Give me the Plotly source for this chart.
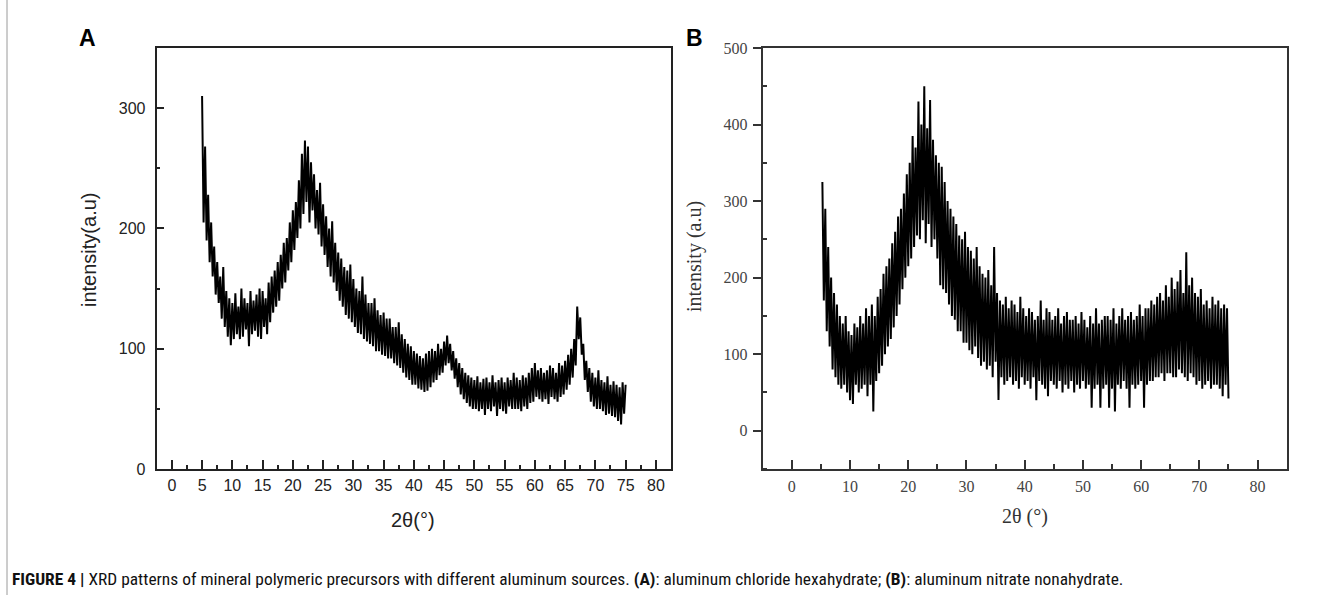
import numpy as np
import plotly.graph_objects as go

# ---------------- data ----------------
# Panel A: aluminum chloride hexahydrate, 2theta scan 5..75 deg, 0.25 deg step
theta_a_start, theta_a_stop, theta_step = 5.0, 75.0, 0.25
intensity_a = [
    310, 205, 268, 190,   # 5
    228, 172, 205, 160,   # 6
    185, 145, 172, 138,   # 7
    160, 125, 168, 118,   # 8
    148, 110, 142, 103,   # 9
    138, 108, 146, 112,   # 10
    135, 108, 150, 110,   # 11
    142, 116, 138, 102,   # 12
    148, 112, 140, 115,   # 13
    145, 110, 150, 108,   # 14
    148, 118, 142, 112,   # 15
    155, 122, 160, 130,   # 16
    165, 135, 172, 140,   # 17
    178, 150, 188, 155,   # 18
    192, 165, 205, 172,   # 19
    215, 182, 222, 192,   # 20
    240, 200, 262, 212,   # 21
    273, 222, 268, 205,   # 22
    255, 215, 245, 200,   # 23
    232, 195, 238, 185,   # 24
    220, 178, 210, 168,   # 25
    200, 160, 206, 155,   # 26
    188, 148, 180, 140,   # 27
    175, 135, 168, 128,   # 28
    165, 125, 170, 122,   # 29
    158, 118, 150, 113,   # 30
    148, 112, 160, 108,   # 31
    145, 106, 138, 104,   # 32
    138, 102, 142, 98,    # 33
    132, 98, 128, 95,     # 34
    130, 94, 125, 92,     # 35
    125, 92, 118, 88,     # 36
    118, 86, 122, 84,     # 37
    112, 80, 108, 76,     # 38
    104, 74, 102, 70,     # 39
    98, 70, 96, 67,       # 40
    94, 66, 92, 64,       # 41
    96, 65, 98, 68,       # 42
    100, 72, 98, 74,      # 43
    104, 78, 100, 80,     # 44
    106, 86, 111, 88,     # 45
    104, 82, 98, 75,      # 46
    92, 68, 88, 62,       # 47
    84, 58, 80, 55,       # 48
    78, 52, 76, 50,       # 49
    74, 50, 77, 48,       # 50
    72, 50, 75, 45,       # 51
    76, 50, 72, 48,       # 52
    78, 52, 72, 44,       # 53
    74, 50, 76, 48,       # 54
    72, 46, 76, 52,       # 55
    74, 50, 80, 50,       # 56
    76, 50, 74, 48,       # 57
    78, 52, 76, 50,       # 58
    80, 55, 84, 56,       # 59
    88, 60, 82, 58,       # 60
    84, 56, 80, 58,       # 61
    82, 54, 86, 60,       # 62
    84, 58, 80, 56,       # 63
    88, 60, 86, 62,       # 64
    90, 66, 95, 70,       # 65
    100, 76, 108, 86,     # 66
    135, 108, 126, 95,    # 67
    104, 74, 90, 64,      # 68
    84, 56, 80, 52,       # 69
    76, 50, 82, 50,       # 70
    74, 48, 72, 45,       # 71
    77, 46, 70, 44,       # 72
    73, 43, 70, 40,       # 73
    68, 37, 72, 46,       # 74
    70,                   # 75
]

# Panel B: aluminum nitrate nonahydrate, 2theta scan 5.25..75 deg, 0.25 deg step
theta_b_start, theta_b_stop = 5.25, 75.0
intensity_b = [
    325, 170, 290,        # 5.25-5.75
    130, 240, 110, 200,   # 6
    80, 180, 70, 165,     # 7
    60, 150, 55, 140,     # 8
    60, 150, 50, 130,     # 9
    40, 125, 35, 140,     # 10
    60, 135, 50, 150,     # 11
    55, 140, 60, 160,     # 12
    45, 150, 60, 165,     # 13
    25, 150, 65, 175,     # 14
    75, 185, 85, 205,     # 15
    100, 215, 110, 225,   # 16
    120, 245, 135, 260,   # 17
    150, 280, 165, 290,   # 18
    185, 310, 200, 335,   # 19
    215, 350, 225, 385,   # 20
    240, 370, 255, 430,   # 21
    250, 400, 275, 450,   # 22
    245, 395, 270, 432,   # 23
    240, 380, 250, 360,   # 24
    225, 350, 190, 345,   # 25
    185, 325, 180, 300,   # 26
    165, 290, 150, 280,   # 27
    145, 270, 130, 255,   # 28
    130, 250, 115, 260,   # 29
    115, 240, 105, 235,   # 30
    100, 225, 110, 240,   # 31
    95, 215, 85, 205,     # 32
    90, 200, 80, 210,     # 33
    85, 190, 70, 240,     # 34
    90, 180, 40, 170,     # 35
    70, 165, 60, 175,     # 36
    65, 160, 70, 170,     # 37
    60, 165, 65, 155,     # 38
    55, 175, 70, 160,     # 39
    60, 150, 65, 160,     # 40
    55, 155, 70, 145,     # 41
    40, 150, 65, 170,     # 42
    60, 145, 55, 160,     # 43
    45, 155, 65, 145,     # 44
    60, 150, 55, 160,     # 45
    65, 140, 50, 150,     # 46
    60, 155, 55, 145,     # 47
    65, 145, 50, 150,     # 48
    60, 140, 55, 155,     # 49
    65, 145, 55, 135,     # 50
    60, 150, 30, 140,     # 51
    55, 160, 60, 140,     # 52
    30, 145, 55, 150,     # 53
    60, 150, 30, 145,     # 54
    55, 160, 25, 140,     # 55
    60, 150, 55, 160,     # 56
    65, 145, 55, 150,     # 57
    30, 155, 60, 145,     # 58
    55, 150, 60, 165,     # 59
    65, 150, 30, 160,     # 60
    60, 160, 65, 170,     # 61
    65, 165, 70, 175,     # 62
    70, 180, 75, 170,     # 63
    65, 190, 75, 175,     # 64
    75, 200, 70, 185,     # 65
    70, 195, 80, 210,     # 66
    75, 180, 70, 233,     # 67
    65, 190, 75, 200,     # 68
    70, 180, 60, 175,     # 69
    65, 185, 55, 165,     # 70
    60, 170, 65, 160,     # 71
    55, 175, 60, 165,     # 72
    60, 170, 55, 160,     # 73
    45, 165, 60, 160,     # 74
    42,                   # 75
]

x_ticks_a = list(range(0, 85, 5))
y_ticks_a = [0, 100, 200, 300]
x_ticks_b = list(range(0, 90, 10))
y_ticks_b = [0, 100, 200, 300, 400, 500]

theta_a = np.round(np.arange(theta_a_start, theta_a_stop + 1e-9, theta_step), 2)
theta_b = np.round(np.arange(theta_b_start, theta_b_stop + 1e-9, theta_step), 2)
assert len(theta_a) == len(intensity_a), (len(theta_a), len(intensity_a))
assert len(theta_b) == len(intensity_b), (len(theta_b), len(intensity_b))

# ---------------- figure ----------------
W, H = 1344, 595
SANS = "Liberation Sans, Arial, sans-serif"
SERIF = "Liberation Serif, Times New Roman, serif"
INK = "#222222"

fig = go.Figure()
fig.add_trace(go.Scatter(x=theta_a, y=intensity_a, mode="lines",
                         line=dict(color="#000000", width=2),
                         xaxis="x", yaxis="y", showlegend=False, hoverinfo="skip"))
fig.add_trace(go.Scatter(x=theta_b, y=intensity_b, mode="lines",
                         line=dict(color="#000000", width=2),
                         xaxis="x2", yaxis="y2", showlegend=False, hoverinfo="skip"))


def px(x):
    return x / W


def py(y):
    return 1 - y / H


ydom = [py(469), py(48)]

fig.update_layout(
    width=W, height=H,
    margin=dict(l=0, r=0, t=0, b=0, autoexpand=False),
    paper_bgcolor="white", plot_bgcolor="white",
    font=dict(family=SANS, color=INK),
    xaxis=dict(domain=[px(156.7), px(671)], range=[-2.5, 82.5],
               tickmode="array", tickvals=x_ticks_a,
               ticks="inside", ticklen=9, tickwidth=1.5, tickcolor=INK,
               minor=dict(ticks="inside", ticklen=4.5, tickwidth=1.5, tickcolor=INK,
                          tick0=2.5, dtick=5),
               showline=True, linecolor=INK, linewidth=2, mirror=True,
               showgrid=False, zeroline=False, automargin=False,
               tickfont=dict(family=SANS, size=16, color=INK),
               ticklabelstandoff=1, anchor="y"),
    yaxis=dict(domain=ydom, range=[0, 350],
               tickmode="array", tickvals=y_ticks_a,
               ticks="inside", ticklen=7, tickwidth=1.5, tickcolor=INK,
               minor=dict(ticks="inside", ticklen=3.5, tickwidth=1.5, tickcolor=INK,
                          tick0=50, dtick=100),
               showline=True, linecolor=INK, linewidth=2, mirror=True,
               showgrid=False, zeroline=False, automargin=False,
               tickfont=dict(family=SANS, size=16, color=INK),
               ticklabelstandoff=6, anchor="x"),
    xaxis2=dict(domain=[px(762.7), px(1286.7)], range=[-5, 85],
                tickmode="array", tickvals=x_ticks_b,
                ticks="inside", ticklen=9, tickwidth=1.5, tickcolor="#333333",
                minor=dict(ticks="inside", ticklen=5, tickwidth=1.5, tickcolor="#333333",
                           tick0=5, dtick=10),
                showline=True, linecolor="#333333", linewidth=2, mirror=True,
                showgrid=False, zeroline=False, automargin=False,
                tickfont=dict(family=SERIF, size=16, color="#444444"),
                ticklabelstandoff=2, anchor="y2"),
    yaxis2=dict(domain=ydom, range=[-50, 500],
                tickmode="array", tickvals=y_ticks_b,
                ticks="outside", ticklen=8, tickwidth=1.5, tickcolor="#333333",
                minor=dict(ticks="inside", ticklen=4, tickwidth=1.5, tickcolor="#333333",
                           tick0=50, dtick=100),
                showline=True, linecolor="#333333", linewidth=2, mirror=True,
                showgrid=False, zeroline=False, automargin=False,
                tickfont=dict(family=SERIF, size=16, color="#444444"),
                ticklabelstandoff=2, anchor="x2"),
)

annotations = [
    dict(text="<b>A</b>", x=px(87), y=py(38), font=dict(family=SANS, size=23, color="#000")),
    dict(text="<b>B</b>", x=px(694.5), y=py(38), font=dict(family=SANS, size=23, color="#000")),
    dict(text="2θ(°)", x=px(413), y=py(520), font=dict(family=SANS, size=20, color=INK)),
    dict(text="intensity(a.u)", x=px(89), y=py(250), textangle=-90,
         font=dict(family=SANS, size=20, color=INK)),
    dict(text="2θ (°)", x=px(1025), y=py(516), font=dict(family=SERIF, size=20, color="#333")),
    dict(text="intensity (a.u)", x=px(694), y=py(257), textangle=-90,
         font=dict(family=SERIF, size=20, color="#333")),
    dict(text="<b>FIGURE 4 |</b> XRD patterns of mineral polymeric precursors with different "
              "aluminum sources. <b>(A)</b>: aluminum chloride hexahydrate; "
              "<b>(B)</b>: aluminum nitrate nonahydrate.",
         x=px(10), y=py(579), xanchor="left",
         font=dict(family="Roboto Condensed, " + SANS, size=17.4, color="#111")),
]
for a in annotations:
    a.setdefault("xanchor", "center")
    a.update(xref="paper", yref="paper", yanchor="middle", showarrow=False)
fig.update_layout(annotations=annotations)

# thin frame line at the left edge of the picture
fig.add_shape(type="line", xref="paper", yref="paper",
              x0=px(7), x1=px(7), y0=0, y1=1,
              line=dict(color="#9a9a9a", width=1))

fig.write_html("out.html",
               config={"displayModeBar": False},
               post_script="document.body.style.margin='0';document.body.style.overflow='hidden';")
